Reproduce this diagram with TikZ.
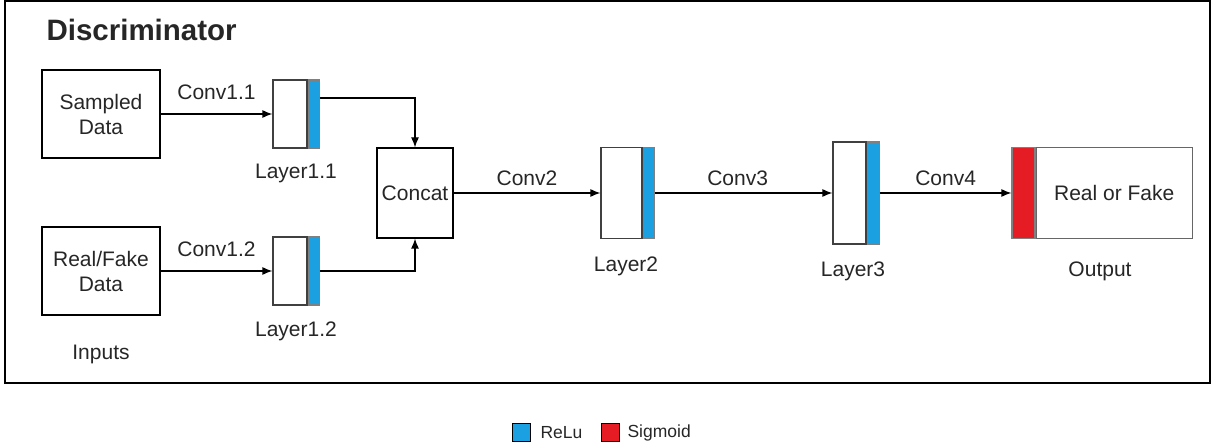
\documentclass[tikz,border=0pt]{standalone}
\usepackage{fontspec}
\setmainfont{Liberation Sans}
\definecolor{relublue}{RGB}{27, 161, 226}
\definecolor{sigred}{RGB}{229, 28, 36}
\usetikzlibrary{arrows.meta, calc, positioning}

\begin{document}
\begin{tikzpicture}[x=1pt, y=-1pt,
	every node/.style={text=black!85, font=\fontsize{21}{25}\selectfont},
	inbox/.style={draw, line width=1.2pt, minimum width=118pt, minimum height=88pt, inner sep=0pt, align=center},
	body/.style={draw=black!75, line width=1.2pt, fill=white, inner sep=0pt},
	relu/.style={draw=black!50, line width=1.2pt, fill=relublue, inner sep=0pt, minimum width=11pt},
	sig/.style={draw=black!50, line width=1.2pt, fill=sigred, inner sep=0pt, minimum width=23pt},
	conn/.style={line width=1.2pt, -{Latex[length=10pt, width=8pt]}},
	key/.style={draw, line width=0.8pt, minimum size=18pt, inner sep=0pt},
	keytext/.style={font=\fontsize{17.5}{20}\selectfont, anchor=west}]
			\pgfmathsetmacro{\layh}{68}
			
			% frame and title
			\useasboundingbox (0,0) rectangle (1212,446);
			\draw[line width=1.2pt] (5,1) rectangle (1210,383);
			\node[anchor=west, font=\fontsize{29.5}{34}\bfseries] (title) at (43,30) {Discriminator};
			
			% inputs
			\node[inbox] (sampled) at (101,114) {Sampled\\Data};
			\node[inbox] (realfake) at (101,271) {Real/Fake\\Data};
			\node (inputs) at (101,354) {Inputs};
			
			% first layers
			\node[body, minimum width=34pt, minimum height=\layh pt] (l11) at (290,114) {};
			\node[relu, minimum height=\layh pt, right=0pt of l11] (l11r) {};
			\node[body, minimum width=34pt, minimum height=\layh pt] (l12) at (290,271) {};
			\node[relu, minimum height=\layh pt, right=0pt of l12] (l12r) {};
			\node (l11lab) at (296,173) {Layer1.1};
			\node (l12lab) at (296,331) {Layer1.2};
			
			\node[draw, line width=1.2pt, minimum width=76pt, minimum height=90pt, inner sep=0pt] (concat) at (415,193) {Concat};
			
			% deeper layers
			\node[body, minimum width=41pt, minimum height=91pt] (l2) at (621.5,193) {};
			\node[relu, minimum height=91pt, right=0pt of l2] (l2r) {};
			\node (l2lab) at (626,266) {Layer2};
			\node[body, minimum width=33pt, minimum height=102pt] (l3) at (849.5,193) {};
			\node[relu, minimum width=12pt, minimum height=102pt, right=0pt of l3] (l3r) {};
			\node (l3lab) at (853,271) {Layer3};
			
			% output
			\node[sig, minimum height=91pt] (outsig) at (1023.5,193) {};
			\node[body, draw=black!60, minimum width=156pt, minimum height=91pt, right=0pt of outsig] (out) {Real or Fake};
			\node (outlab) at (1100,271) {Output};
			
			% connectors
			\draw[conn] (sampled.east) -- (l11.west) node[midway, above=10pt] {Conv1.1};
			\draw[conn] (realfake.east) -- (l12.west) node[midway, above=10pt] {Conv1.2};
			\draw[conn] ($(l11r.east)+(0,-16)$) -| (concat.north);
			\draw[conn] (l12r.east) -| (concat.south);
			\draw[conn] (concat.east) -- (l2.west) node[midway, above=3pt] {Conv2};
			\draw[conn] (l2r.east) -- (l3.west) node[midway, above=3pt, xshift=-6pt] {Conv3};
			\draw[conn] (l3r.east) -- (outsig.west) node[midway, above=3pt] {Conv4};
			
			% legend
			\node[key, fill=relublue] (kblue) at (521,432.5) {};
			\node[keytext] (krelu) at (537,432.5) {ReLu};
			\node[key, fill=sigred] (kred) at (610.5,432.5) {};
			\node[keytext] (ksig) at (624,432.5) {Sigmoid};
\end{tikzpicture}
\end{document}
